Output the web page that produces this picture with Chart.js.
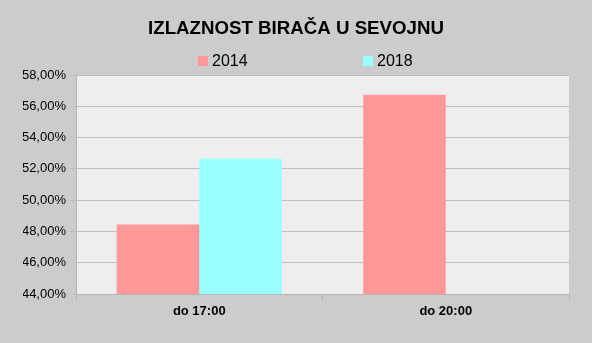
<!DOCTYPE html>
<html>
<head>
<meta charset="utf-8">
<script src="https://cdn.jsdelivr.net/npm/chart.js@4/dist/chart.umd.min.js"></script>
<style>
	html, body { margin: 0; padding: 0; background: #cccccc; }
	#wrap { width: 592px; height: 343px; position: relative; }
</style>
</head>
<body>
<div id="wrap"><canvas id="myChart" width="592" height="343"></canvas></div>
<script>
var categories = ["do 17:00", "do 20:00"];
var years = ["2014", "2018"];
var turnout2014 = [48.44, 56.74];
var turnout2018 = [52.64, null];
var yTicks = [44, 46, 48, 50, 52, 54, 56, 58];

var FONT = "'Liberation Sans', Arial, sans-serif";

// gray plot area behind the bars
var plotBg = {
	id: 'plotBg',
	beforeDraw: function(chart) {
		var a = chart.chartArea;
		var ctx = chart.ctx;
		ctx.save();
		ctx.fillStyle = "#eeeeee";
		ctx.fillRect(a.left, a.top, a.right - a.left, a.bottom - a.top);
		ctx.restore();
	}
};

// legend spaced like the original
var wideLegend = {
	id: 'wideLegend',
	afterDraw: function(chart) {
		var ctx = chart.ctx;
		var x = 198, y = 61, gap = 165;
		ctx.save();
		ctx.font = "16px " + FONT;
		ctx.textBaseline = "middle";
		ctx.textAlign = "left";
		chart.data.datasets.forEach(function(ds, i) {
			var bx = x + i * gap;
			ctx.fillStyle = ds.backgroundColor;
			ctx.fillRect(bx, y - 5, 10, 10);
			ctx.fillStyle = "#000";
			ctx.fillText(ds.label, bx + 14, y + 1);
		});
		ctx.restore();
	}
};

var ctx = document.getElementById("myChart");
var myBarChart = new Chart(ctx, {
	type: 'bar',
	data: {
		labels: categories,
		datasets: [
		{
			label: years[0],
			data: turnout2014,
			backgroundColor: "#ff9999"
		},
		{
			label: years[1],
			data: turnout2018,
			backgroundColor: "#99ffff"
		}]
	},
	options: {
		responsive: false,
		animation: false,
		layout: { padding: { left: 23, right: 23, top: 0, bottom: 0 } },
		datasets: {
			bar: { categoryPercentage: 0.67, barPercentage: 1 }
		},
		plugins: {
			legend: { display: false },
			tooltip: { enabled: false },
			title: {
				display: true,
				text: "IZLAZNOST BIRAČA U SEVOJNU",
				color: "#000",
				font: { family: FONT, size: 18.7, weight: 'bold' },
				padding: { top: 17.5, bottom: 35.06 }
			}
		},
		scales: {
			x: {
				afterFit: function(scale) { scale.height = 49; },
				grid: {
					offset: true,
					drawOnChartArea: false,
					drawTicks: true,
					tickLength: 6,
					color: "#b3b3b3"
				},
				border: { color: "#b3b3b3" },
				ticks: {
					color: "#000",
					padding: 4,
					font: { family: FONT, size: 13, weight: 'bold' }
				}
			},
			y: {
				min: yTicks[0],
				max: yTicks[yTicks.length - 1],
				afterFit: function(scale) { scale.width = 53; },
				afterBuildTicks: function(scale) {
					scale.ticks = yTicks.map(function(v) { return { value: v }; });
				},
				grid: {
					color: "#bfbfbf",
					tickLength: 6
				},
				border: { color: "#b3b3b3" },
				ticks: {
					color: "#000",
					padding: 4,
					font: { family: FONT, size: 13 },
					callback: function(v) { return v.toFixed(2).replace('.', ',') + '%'; }
				}
			}
		}
	},
	plugins: [plotBg, wideLegend]
});
</script>
</body>
</html>
